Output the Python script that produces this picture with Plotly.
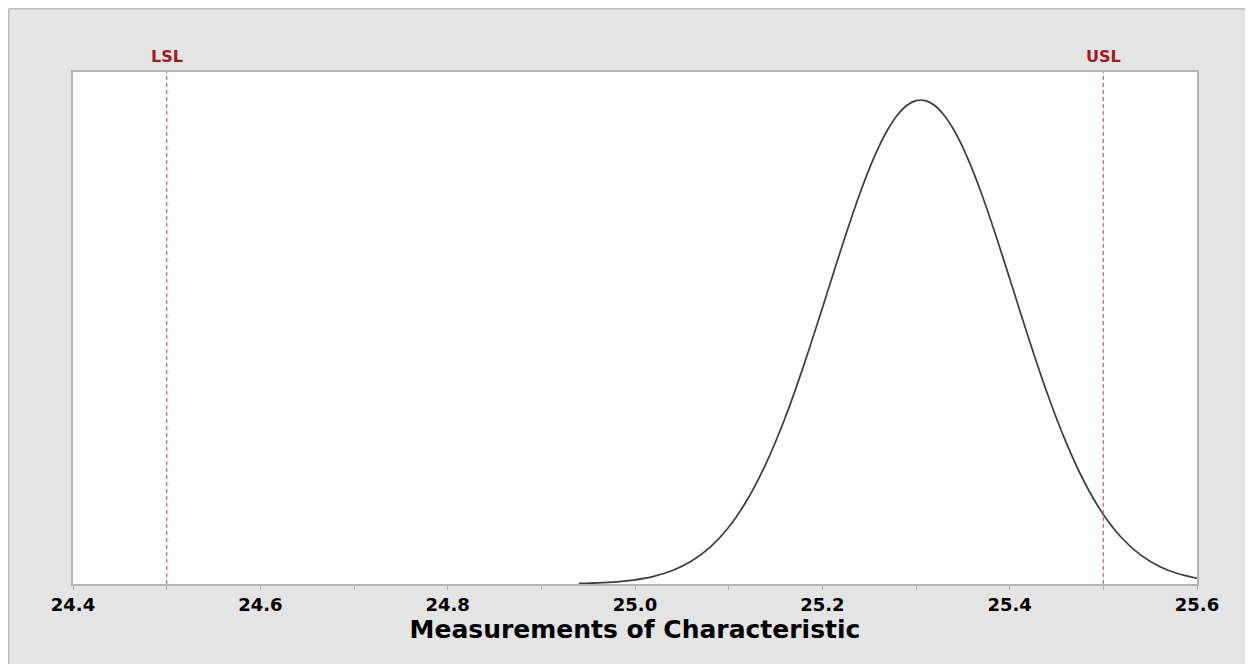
import plotly.graph_objects as go

curve_x = [24.94, 24.96, 24.98, 25.00, 25.02, 25.04, 25.06, 25.08, 25.10, 25.12,
           25.14, 25.16, 25.18, 25.20, 25.21, 25.22, 25.23, 25.24, 25.25, 25.26,
           25.27, 25.28, 25.29, 25.30, 25.31, 25.32, 25.33, 25.34, 25.35, 25.36,
           25.37, 25.38, 25.39, 25.40, 25.42, 25.44, 25.46, 25.48, 25.50,
           25.52, 25.54, 25.56, 25.58, 25.60]
curve_y = [0.0045, 0.0093, 0.0184, 0.0350, 0.0639, 0.1120, 0.1886, 0.3045, 0.4723, 0.7032,
           1.005, 1.378, 1.816, 2.296, 2.543, 2.788, 3.025, 3.249, 3.454, 3.635,
           3.786, 3.903, 3.984, 4.025, 4.025, 3.984, 3.903, 3.786, 3.635, 3.454,
           3.249, 3.025, 2.788, 2.543, 2.053, 1.590, 1.183, 0.8451, 0.5791,
           0.3812, 0.2409, 0.1461, 0.0851, 0.0476]

spec_names = ["LSL", "USL"]
spec_values = [24.5, 25.5]

tick_vals = [24.4, 24.6, 24.8, 25.0, 25.2, 25.4, 25.6]
tick_text = ["24.4", "24.6", "24.8", "25.0", "25.2", "25.4", "25.6"]
x_title = "Measurements of Characteristic"

W, H = 1245, 656
ML, MR, MT, MB = 65, 56, 64, 80
PW, PH = W - ML - MR, H - MT - MB

fig = go.Figure()
fig.add_trace(go.Scatter(x=curve_x, y=curve_y, mode="lines",
                         line=dict(color="#3c3c3c", width=1.7, shape="spline", smoothing=0.8),
                         hoverinfo="skip", showlegend=False))

for name, v in zip(spec_names, spec_values):
    fig.add_shape(type="line", x0=v, x1=v, xref="x", y0=0, y1=1, yref="paper",
                  line=dict(color="#e06666", width=1.3, dash="4px,3px"), layer="above")
    fig.add_annotation(x=v, xref="x", y=1, yref="paper", yanchor="bottom", yshift=4,
                       text=name, showarrow=False,
                       font=dict(family="DejaVu Sans", size=16, color="#9e1b22", weight=700))

# grey frame line along the left and top edges of the figure
fig.add_shape(type="line", xref="paper", yref="paper", x0=-(ML - 0.75) / PW, x1=-(ML - 0.75) / PW,
              y0=-(MB + 5) / PH, y1=1 + (MT - 0.75) / PH, line=dict(color="#bdbdbd", width=1.5))
fig.add_shape(type="line", xref="paper", yref="paper", x0=-(ML - 0.75) / PW, x1=1 + (MR + 5) / PW,
              y0=1 + (MT - 0.75) / PH, y1=1 + (MT - 0.75) / PH, line=dict(color="#bdbdbd", width=1.5))

fig.update_layout(
    width=W, height=H,
    margin=dict(l=ML, r=MR, t=MT, b=MB),
    paper_bgcolor="#e4e4e4", plot_bgcolor="white",
    xaxis=dict(range=[24.4, 25.6], tickvals=tick_vals, ticktext=tick_text,
               ticks="outside", ticklen=4, tickcolor="#b0b0b0", showgrid=False, zeroline=False,
               showline=True, linecolor="#b4b4b4", linewidth=1.5, mirror=True,
               minor=dict(dtick=0.1, ticks="outside", ticklen=4, tickcolor="#b0b0b0", showgrid=False),
               tickfont=dict(family="DejaVu Sans", size=18, color="black", weight=700),
               title=dict(text=x_title, standoff=0,
                          font=dict(family="DejaVu Sans", size=25, color="black", weight=700))),
    yaxis=dict(range=[0, 4.263], showticklabels=False, ticks="", showgrid=False, zeroline=False,
               showline=True, linecolor="#b4b4b4", linewidth=1.5, mirror=True),
)

fig.write_html("out.html")
